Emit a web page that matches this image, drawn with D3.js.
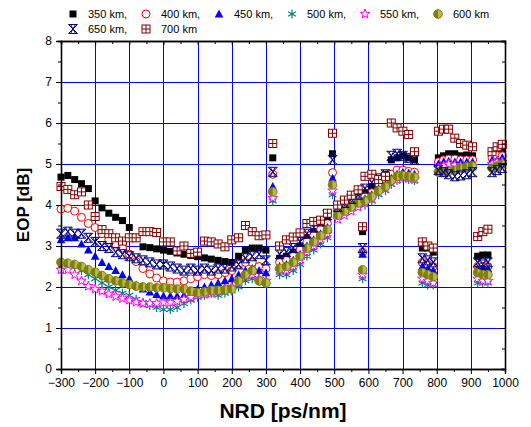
<!DOCTYPE html>
<html>
<head>
<meta charset="utf-8">
<script src="https://cdn.jsdelivr.net/npm/d3@7"></script>
<style>
  body { margin: 0; background: #fff; }
  text { font-family: Arial, "Liberation Sans", sans-serif; }
</style>
</head>
<body>
<svg id="chart" width="531" height="427"></svg>
<script>
// NRD positions, ps/nm (segments: sweep, stack, sweep, stack, ...)
const nrd = [
  -300, -280, -260, -240, -220, -200, -180, -160, -140, -120, -100, -80, -60, -40, -20,
  0, 20, 40, 60, 80, 100, 120, 140, 160, 180, 200, 220, 240, 260, 280, 300,
  320,
  340, 360, 380, 400, 420, 440, 460, 480,
  495,
  510, 530, 550, 570,
  583,
  590, 610, 630, 650, 667, 684, 701, 718, 735,
  758, 774, 790,
  805, 820, 835, 853, 870, 888, 905,
  920, 935, 950,
  962, 977, 992
]

// EOP [dB] per launch distance
const eop350 = [
  4.68, 4.72, 4.62, 4.52, 4.4, 4.1, 3.93, 3.8, 3.7, 3.62, 3.45, 3.2, 2.98, 2.96, 2.93,
  2.9, 2.87, 2.83, 2.8, 2.77, 2.74, 2.71, 2.68, 2.65, 2.62, 2.6, 2.75, 2.9, 2.95, 2.95, 2.9,
  5.15,
  2.7, 2.75, 2.85, 3.0, 3.2, 3.35, 3.5, 3.65,
  5.25,
  3.9, 4.0, 4.1, 4.2,
  3.35,
  4.3, 4.45, 4.6, 4.75, 5.1, 5.15, 5.2, 5.15, 5.1,
  2.95, 2.95, 2.85,
  5.15, 5.2, 5.25, 5.25, 5.2, 5.22, 5.2,
  2.75, 2.78, 2.78,
  5.25, 5.3, 5.35
]
const eop400 = [
  3.9, 3.92, 3.85, 3.7, 3.55, 3.45, 3.3, 3.15, 3.05, 2.95, 2.8, 2.62, 2.45, 2.32, 2.22,
  2.15, 2.12, 2.12, 2.15, 2.2, 2.25, 2.3, 2.28, 2.3, 2.35, 2.4, 2.55, 2.6, 2.6, 2.5, 2.45,
  4.75,
  2.6, 2.65, 2.75, 2.9, 3.1, 3.25, 3.4, 3.55,
  4.79,
  3.85, 3.95, 4.05, 4.15,
  2.85,
  4.2, 4.3, 4.45, 4.6, 4.75, 4.85, 4.85, 4.82, 4.8,
  2.6, 2.55, 2.5,
  5.05, 5.1, 5.12, 5.12, 5.1, 5.1, 5.1,
  2.5, 2.5, 2.5,
  5.15, 5.2, 5.2
]
const eop450 = [
  3.15, 3.2, 3.2, 3.05, 2.9, 2.75, 2.6, 2.5, 2.4, 2.3, 2.2, 2.05, 1.95, 1.88, 1.82,
  1.78, 1.78, 1.78, 1.8, 1.85, 1.95, 2.0, 2.05, 2.1, 2.15, 2.2, 2.3, 2.4, 2.45, 2.4, 2.35,
  4.45,
  2.5, 2.55, 2.65, 2.8, 3.0, 3.15, 3.3, 3.45,
  4.65,
  3.8, 3.9, 4.0, 4.1,
  2.8,
  4.15, 4.25, 4.4, 4.5, 4.65, 4.75, 4.8, 4.78, 4.75,
  2.5, 2.45, 2.4,
  5.0, 5.05, 5.07, 5.05, 5.05, 5.05, 5.05,
  2.45, 2.45, 2.45,
  5.1, 5.1, 5.15
]
const eop500 = [
  2.6, 2.55, 2.5, 2.4, 2.3, 2.2, 2.1, 2.0, 1.92, 1.85, 1.8, 1.7, 1.62, 1.55, 1.5,
  1.45, 1.45, 1.5, 1.6, 1.68, 1.75, 1.8, 1.85, 1.8, 1.85, 1.9, 2.0, 2.15, 2.2, 2.15, 2.1,
  4.1,
  2.3, 2.3, 2.4, 2.55, 2.75, 2.9, 3.05, 3.2,
  4.25,
  3.7, 3.8, 3.9, 4.0,
  2.2,
  4.0, 4.1, 4.25, 4.35, 4.5, 4.6, 4.65, 4.62, 4.6,
  2.1, 2.05, 2.05,
  4.9, 4.95, 5.0, 4.95, 4.95, 4.9, 4.9,
  2.1, 2.1, 2.1,
  4.95, 5.0, 5.0
]
const eop550 = [
  2.42, 2.42, 2.3, 2.15, 2.02, 1.95, 1.9, 1.83, 1.77, 1.72, 1.68, 1.63, 1.6, 1.6, 1.6,
  1.62, 1.62, 1.65, 1.7, 1.75, 1.8, 1.82, 1.85, 1.9, 1.95, 2.0, 2.1, 2.25, 2.3, 2.2, 2.15,
  4.17,
  2.4, 2.4, 2.5, 2.65, 2.85, 3.0, 3.15, 3.3,
  4.35,
  3.65, 3.75, 3.85, 3.95,
  2.3,
  4.05, 4.15, 4.3, 4.4, 4.55, 4.62, 4.68, 4.65, 4.62,
  2.2, 2.15, 2.1,
  4.9, 4.95, 5.0, 4.97, 4.95, 4.95, 4.95,
  2.2, 2.15, 2.15,
  5.0, 5.05, 5.05
]
const eop600 = [
  2.6, 2.58, 2.55, 2.5, 2.42, 2.36, 2.28, 2.2, 2.15, 2.1, 2.06, 2.02, 2.0, 2.0, 1.98,
  1.98, 1.96, 1.95, 1.95, 1.9, 1.86, 1.88, 1.92, 1.92, 1.93, 1.95, 2.15, 2.3, 2.4, 2.15, 2.1,
  4.32,
  2.45, 2.5, 2.6, 2.75, 2.95, 3.1, 3.25, 3.4,
  4.49,
  3.75, 3.85, 3.95, 4.05,
  2.42,
  4.1, 4.2, 4.35, 4.45, 4.6, 4.7, 4.72, 4.7, 4.68,
  2.35, 2.3, 2.25,
  4.8, 4.8, 4.82, 4.85, 4.9, 4.93, 4.95,
  2.35, 2.3, 2.3,
  4.9, 4.95, 5.0
]
const eop650 = [
  3.3, 3.35, 3.3, 3.3, 3.2, 3.1, 3.0, 2.95, 2.85, 2.8, 2.75, 2.7, 2.65, 2.6, 2.55,
  2.55, 2.5, 2.45, 2.4, 2.45, 2.4, 2.45, 2.4, 2.45, 2.45, 2.5, 2.55, 2.7, 2.75, 2.8, 2.65,
  4.81,
  2.8, 2.85, 2.95, 3.1, 3.3, 3.45, 3.6, 3.75,
  5.1,
  3.95, 4.05, 4.15, 4.25,
  2.95,
  4.4, 4.55, 4.65, 4.75, 5.2, 5.25, 5.2, 5.15, 5.1,
  2.7, 2.65, 2.6,
  4.85, 4.8, 4.75, 4.7, 4.72, 4.75, 4.8,
  2.6, 2.55, 2.6,
  4.8, 4.85, 4.9
]
const eop700 = [
  4.45, 4.38, 4.25, 4.32, 4.0, 3.72, 3.4, 3.3, 3.2, 3.12, 3.2, 3.2, 3.35, 3.35, 3.33,
  3.1, 3.1, 2.88, 3.0, 2.82, 2.85, 3.12, 3.1, 3.05, 2.98, 3.15, 3.2, 3.5, 3.35, 3.25, 3.27,
  5.5,
  3.0, 3.15, 3.22, 3.32, 3.55, 3.6, 3.63, 3.8,
  5.75,
  4.0, 4.12, 4.24, 4.37,
  3.47,
  4.7, 4.75, 4.62, 4.7, 6.0, 5.88, 5.8, 5.72, 5.3,
  3.1, 3.0, 2.95,
  5.8, 5.85, 5.85, 5.63, 5.5, 5.46, 5.42,
  3.23, 3.35, 3.41,
  5.3, 5.42, 5.48
]

const xTicks = [-300, -200, -100, 0, 100, 200, 300, 400, 500, 600, 700, 800, 900, 1000]
const yTicks = [0, 1, 2, 3, 4, 5, 6, 7, 8]

const series = [
  { name: '350 km,', values: eop350, marker: 'square', color: '#000000' },
  { name: '400 km,', values: eop400, marker: 'circle', color: '#ff0000' },
  { name: '450 km,', values: eop450, marker: 'triangle', color: '#0000ff' },
  { name: '500 km,', values: eop500, marker: 'asterisk', color: '#008080' },
  { name: '550 km,', values: eop550, marker: 'star', color: '#ff00ff' },
  { name: '600 km', values: eop600, marker: 'halfcircle', color: '#808000' },
  { name: '650 km,', values: eop650, marker: 'bowtie', color: '#000080' },
  { name: '700 km', values: eop700, marker: 'boxplus', color: '#800000' }
]

const svg = d3.select('#chart')
const margin = { left: 61, right: 505, top: 41, bottom: 369 }

const x = d3.scaleLinear().domain([-300, 1000]).range([margin.left, margin.right])
const y = d3.scaleLinear().domain([0, 8]).range([margin.bottom, margin.top])

// grid
const grid = svg.append('g').attr('class', 'grid')
grid.selectAll('.vgrid')
  .data(xTicks.filter(d => d > -300 && d < 1000))
  .enter()
  .append('line')
  .attr('x1', d => Math.round(x(d)) + 0.5)
  .attr('x2', d => Math.round(x(d)) + 0.5)
  .attr('y1', y(0))
  .attr('y2', y(8))
  .attr('stroke', '#0000ff')
  .attr('stroke-width', 1)
grid.selectAll('.hgrid')
  .data(yTicks.filter(d => d > 0 && d < 8))
  .enter()
  .append('line')
  .attr('y1', d => Math.round(y(d)) + 0.5)
  .attr('y2', d => Math.round(y(d)) + 0.5)
  .attr('x1', x(-300))
  .attr('x2', x(1000))
  .attr('stroke', '#0000ff')
  .attr('stroke-width', 1)

// markers
function drawMarker(sel, type, color) {
  if (type === 'square') {
    sel.append('rect').attr('x', -3.5).attr('y', -3.5).attr('width', 7).attr('height', 7)
      .attr('fill', color)
  } else if (type === 'circle') {
    sel.append('circle').attr('r', 4).attr('fill', '#fff').attr('stroke', color).attr('stroke-width', 1)
  } else if (type === 'triangle') {
    sel.append('path').attr('d', 'M0,-4.5L4.3,3.5L-4.3,3.5Z').attr('fill', color)
  } else if (type === 'asterisk') {
    sel.append('path')
      .attr('d', 'M0,-4.5V4.5M-3.9,-2.25L3.9,2.25M-3.9,2.25L3.9,-2.25')
      .attr('stroke', color).attr('stroke-width', 1.2).attr('fill', 'none')
  } else if (type === 'star') {
    const pts = d3.range(10).map(i => {
      const r = i % 2 === 0 ? 5 : 2.1
      const a = -Math.PI / 2 + i * Math.PI / 5
      return [r * Math.cos(a), r * Math.sin(a)]
    })
    sel.append('path').attr('d', 'M' + pts.join('L') + 'Z')
      .attr('fill', '#fff').attr('stroke', color).attr('stroke-width', 1)
  } else if (type === 'halfcircle') {
    sel.append('circle').attr('r', 4.3).attr('fill', '#b8b860').attr('stroke', color).attr('stroke-width', 1)
    sel.append('path').attr('d', 'M0,-4.3A4.3,4.3 0 0 0 0,4.3Z').attr('fill', color)
  } else if (type === 'bowtie') {
    sel.append('path')
      .attr('d', 'M-4.5,-4.5L4.5,4.5M4.5,-4.5L-4.5,4.5M-4.5,-4.5H4.5M-4.5,4.5H4.5M-2.5,-4.5L0,0L2.5,-4.5M-2.5,4.5L0,0L2.5,4.5')
      .attr('stroke', color).attr('stroke-width', 1).attr('fill', 'none')
  } else if (type === 'boxplus') {
    sel.append('rect').attr('x', -4).attr('y', -4).attr('width', 8).attr('height', 8)
      .attr('fill', '#fff').attr('stroke', color).attr('stroke-width', 1)
    sel.append('path').attr('d', 'M0,-4V4M-4,0H4')
      .attr('stroke', color).attr('stroke-width', 1)
  }
}

const plot = svg.append('g').attr('class', 'points')
series.forEach(s => {
  const pts = nrd.map((v, i) => ({ x: v, y: s.values[i] })).filter(d => d.y != null)
  plot.append('g')
    .selectAll('g')
    .data(pts)
    .enter()
    .append('g')
    .attr('transform', d => `translate(${x(d.x)},${y(d.y)})`)
    .each(function () { drawMarker(d3.select(this), s.marker, s.color) })
})

// axes
const minorX = d3.range(-250, 1000, 100)
const minorY = d3.range(0.5, 8, 1)

const xAxis = svg.append('g')
  .attr('transform', `translate(0,${y(0)})`)
  .call(d3.axisBottom(x).tickValues(xTicks).tickSize(5).tickPadding(4).tickFormat(d3.format('d')))
const xMinor = svg.append('g')
  .attr('transform', `translate(0,${y(0)})`)
  .call(d3.axisBottom(x).tickValues(minorX).tickSize(3).tickFormat(''))
const xTop = svg.append('g')
  .attr('transform', `translate(0,${y(8)})`)
  .call(d3.axisBottom(x).tickValues(xTicks).tickSize(4).tickFormat(''))
const xTopMinor = svg.append('g')
  .attr('transform', `translate(0,${y(8)})`)
  .call(d3.axisBottom(x).tickValues(minorX).tickSize(3).tickFormat(''))

const yAxis = svg.append('g')
  .attr('transform', `translate(${x(-300)},0)`)
  .call(d3.axisLeft(y).tickValues(yTicks).tickSize(5).tickPadding(4))
const yMinor = svg.append('g')
  .attr('transform', `translate(${x(-300)},0)`)
  .call(d3.axisLeft(y).tickValues(minorY).tickSize(3).tickFormat(''))
const yRight = svg.append('g')
  .attr('transform', `translate(${x(1000)},0)`)
  .call(d3.axisLeft(y).tickValues(yTicks).tickSize(4).tickFormat(''))
const yRightMinor = svg.append('g')
  .attr('transform', `translate(${x(1000)},0)`)
  .call(d3.axisLeft(y).tickValues(minorY).tickSize(3).tickFormat(''))

svg.selectAll('.domain').attr('stroke', '#000').attr('stroke-width', 1.3)
svg.selectAll('.tick line').attr('stroke', '#000')
svg.selectAll('.tick text')
  .attr('font-size', 12)
  .attr('font-family', 'Arial, "Liberation Sans", sans-serif')
  .attr('fill', '#000')

// axis titles
svg.append('text')
  .text('NRD [ps/nm]')
  .attr('x', (x(-300) + x(1000)) / 2)
  .attr('y', 418)
  .attr('text-anchor', 'middle')
  .attr('font-size', 21)
  .attr('font-weight', 'bold')

svg.append('text')
  .text('EOP [dB]')
  .attr('transform', `translate(29,${(y(0) + y(8)) / 2}) rotate(-90)`)
  .attr('text-anchor', 'middle')
  .attr('font-size', 17)
  .attr('font-weight', 'bold')

// legend
const legend = svg.append('g').attr('class', 'legend')
series.forEach((s, i) => {
  const row = i < 6 ? 0 : 1
  const col = i < 6 ? i : i - 6
  const item = legend.append('g')
    .attr('transform', `translate(${73 + col * 73},${14 + row * 15})`)
  drawMarker(item, s.marker, s.color)
  item.append('text')
    .text(s.name)
    .attr('x', 15)
    .attr('y', 4)
    .attr('font-size', 11)
})
</script>
</body>
</html>
